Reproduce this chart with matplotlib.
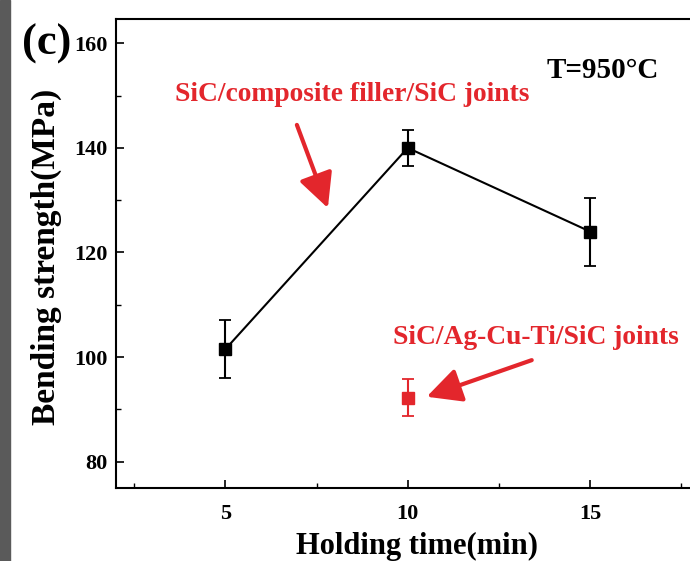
import matplotlib
matplotlib.use("Agg")
import matplotlib.pyplot as plt
from matplotlib.patches import Rectangle, FancyArrowPatch
from matplotlib.ticker import MultipleLocator

# Data
holding_time = [5, 10, 15]
strength_composite = [101.5, 140.0, 124.0]
err_composite = [5.5, 3.5, 6.5]
holding_time_agcuti = [10]
strength_agcuti = [92.2]
err_agcuti = [3.5]
xticks = [5, 10, 15]
yticks = [80, 100, 120, 140, 160]

RED = '#e3262c'
plt.rcParams['font.family'] = ['Liberation Serif', 'DejaVu Serif']
plt.rcParams['font.weight'] = 'bold'

fig = plt.figure(figsize=(6.9, 5.61), dpi=100)
fig.patches.append(Rectangle((0, 0), 10 / 690, 1, transform=fig.transFigure,
                             color='#5a5a5a', zorder=0))
ax = fig.add_axes([116 / 690, 1 - 487.7 / 561, 1 - 116 / 690, (487.7 - 19.3) / 561])

ax.errorbar(holding_time, strength_composite, yerr=err_composite, color='black',
            marker='s', markersize=9, lw=1.5, capsize=4, capthick=1.3, elinewidth=1.5)
ax.errorbar(holding_time_agcuti, strength_agcuti, yerr=err_agcuti, color=RED,
            marker='s', markersize=9, lw=1.5, capsize=4, capthick=1.3, elinewidth=1.5,
            linestyle='none')

ax.set_xlim(2, 17.74)
ax.set_ylim(75, 164.6)
ax.set_xticks(xticks)
ax.set_yticks(yticks)
ax.xaxis.set_minor_locator(MultipleLocator(2.5))
ax.yaxis.set_minor_locator(MultipleLocator(10))
ax.tick_params(which='major', direction='in', length=6, width=1.2, labelsize=16)
ax.tick_params(axis='y', which='major', pad=6)
ax.tick_params(axis='x', which='major', pad=12)
ax.tick_params(which='minor', direction='in', length=3.5, width=1.0)
ax.spines['right'].set_visible(False)
for s in ['left', 'bottom', 'top']:
    ax.spines[s].set_linewidth(1.5)
for lab in ax.get_xticklabels() + ax.get_yticklabels():
    lab.set_fontweight('bold')

ax.set_xlabel('Holding time(min)', fontsize=22, fontweight='bold')
ax.xaxis.set_label_coords((417 - 116) / 574, -(546 - 487.7) / 468.4, transform=ax.transAxes)
ax.xaxis.label.set_va('center')
ax.set_ylabel('Bending strength(MPa)', fontsize=24, fontweight='bold')
ax.yaxis.set_label_coords(-(116 - 46) / 574, (487.7 - 257) / 468.4, transform=ax.transAxes)
ax.yaxis.label.set_va('center')

ax.text(8.47, 150.2, 'SiC/composite filler/SiC joints', color=RED, fontsize=19.8,
        fontweight='bold', ha='center', va='center')
ax.text(13.5, 103.65, 'SiC/Ag-Cu-Ti/SiC joints', color=RED, fontsize=19.8,
        fontweight='bold', ha='center', va='center')
ax.text(15.34, 154.9, 'T=950°C', color='black', fontsize=21,
        fontweight='bold', ha='center', va='center')
fig.text(47 / 690, 1 - 44 / 561, '(c)', fontsize=32, fontweight='bold',
         ha='center', va='center')

for (x0, y0), (x1, y1) in [((6.96, 144.4), (7.81, 128.5)), ((13.40, 99.4), (10.52, 92.4))]:
    ax.add_patch(FancyArrowPatch((x0, y0), (x1, y1), arrowstyle='-|>,head_length=14,head_width=7',
                                 color=RED, lw=3, mutation_scale=1.5, shrinkA=0, shrinkB=0))

fig.savefig('out.png', dpi=100)
